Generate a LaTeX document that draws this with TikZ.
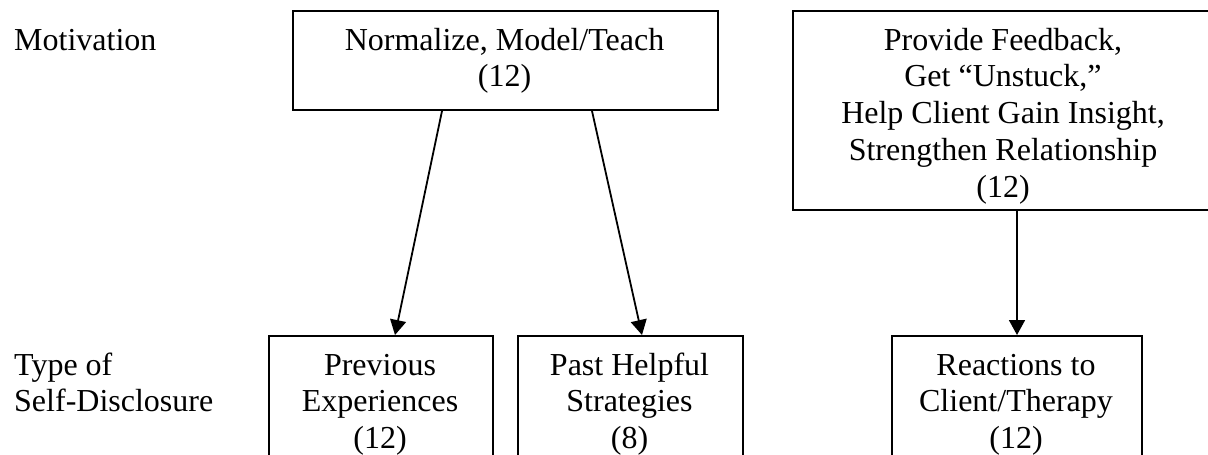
\documentclass[tikz,border=0pt]{standalone}
\usepackage{fontspec}
\setmainfont{Liberation Serif}
\usetikzlibrary{arrows.meta}
\begin{document}
\begin{tikzpicture}[x=1pt,y=1pt,
  box/.style={draw=black, line width=2pt, inner sep=0pt, anchor=north west},
  txt/.style={inner sep=0pt, anchor=base, font=\fontsize{32}{36.8}\selectfont},
  lbl/.style={inner sep=0pt, anchor=base west, font=\fontsize{32}{36.8}\selectfont},
  conn/.style={line width=1.8pt, -{Triangle[length=15pt,width=16pt]}}]
\useasboundingbox (0,0) rectangle (1208,-455);
\clip (0,0) rectangle (1208,-455);
% row labels
\node[lbl] (mot) at (14,-50) {Motivation};
\node[lbl] (typ) at (14,-375) {\begin{tabular}[t]{@{}l@{}}Type of\\Self-Disclosure\end{tabular}};
% motivation boxes
\node[box, minimum width=425pt, minimum height=99pt] (nm) at (292,-10) {};
\node[txt] (nmt) at (504.5,-50) {\begin{tabular}[t]{@{}c@{}}Normalize, Model/Teach\\(12)\end{tabular}};
\node[box, minimum width=422pt, minimum height=199pt] (pf) at (792,-10) {};
\begin{scope}
  \clip (pf.north west) rectangle ([yshift=8pt]pf.south east);
  \node[txt] (pft) at (1003,-50) {\begin{tabular}[t]{@{}c@{}}Provide Feedback,\\Get “Unstuck,”\\Help Client Gain Insight,\\Strengthen Relationship\\(12)\end{tabular}};
\end{scope}
% type boxes
\node[box, minimum width=224pt, minimum height=150pt] (pe) at (268,-335) {};
\node[txt] (pet) at (380,-375) {\begin{tabular}[t]{@{}c@{}}Previous\\Experiences\\(12)\end{tabular}};
\node[box, minimum width=225pt, minimum height=150pt] (ps) at (517,-335) {};
\node[txt] (pst) at (629.5,-375) {\begin{tabular}[t]{@{}c@{}}Past Helpful\\Strategies\\(8)\end{tabular}};
\node[box, minimum width=250pt, minimum height=150pt] (rc) at (891,-335) {};
\node[txt] (rct) at (1016,-375) {\begin{tabular}[t]{@{}c@{}}Reactions to\\Client/Therapy\\(12)\end{tabular}};
% connectors
\draw[conn] ([xshift=150pt]nm.south west) -- ([xshift=14pt]pe.north);
\draw[conn] ([xshift=300pt]nm.south west) -- ([xshift=11.5pt]ps.north);
\draw[conn] (rc.north |- pf.south) -- (rc.north);
\end{tikzpicture}
\end{document}
